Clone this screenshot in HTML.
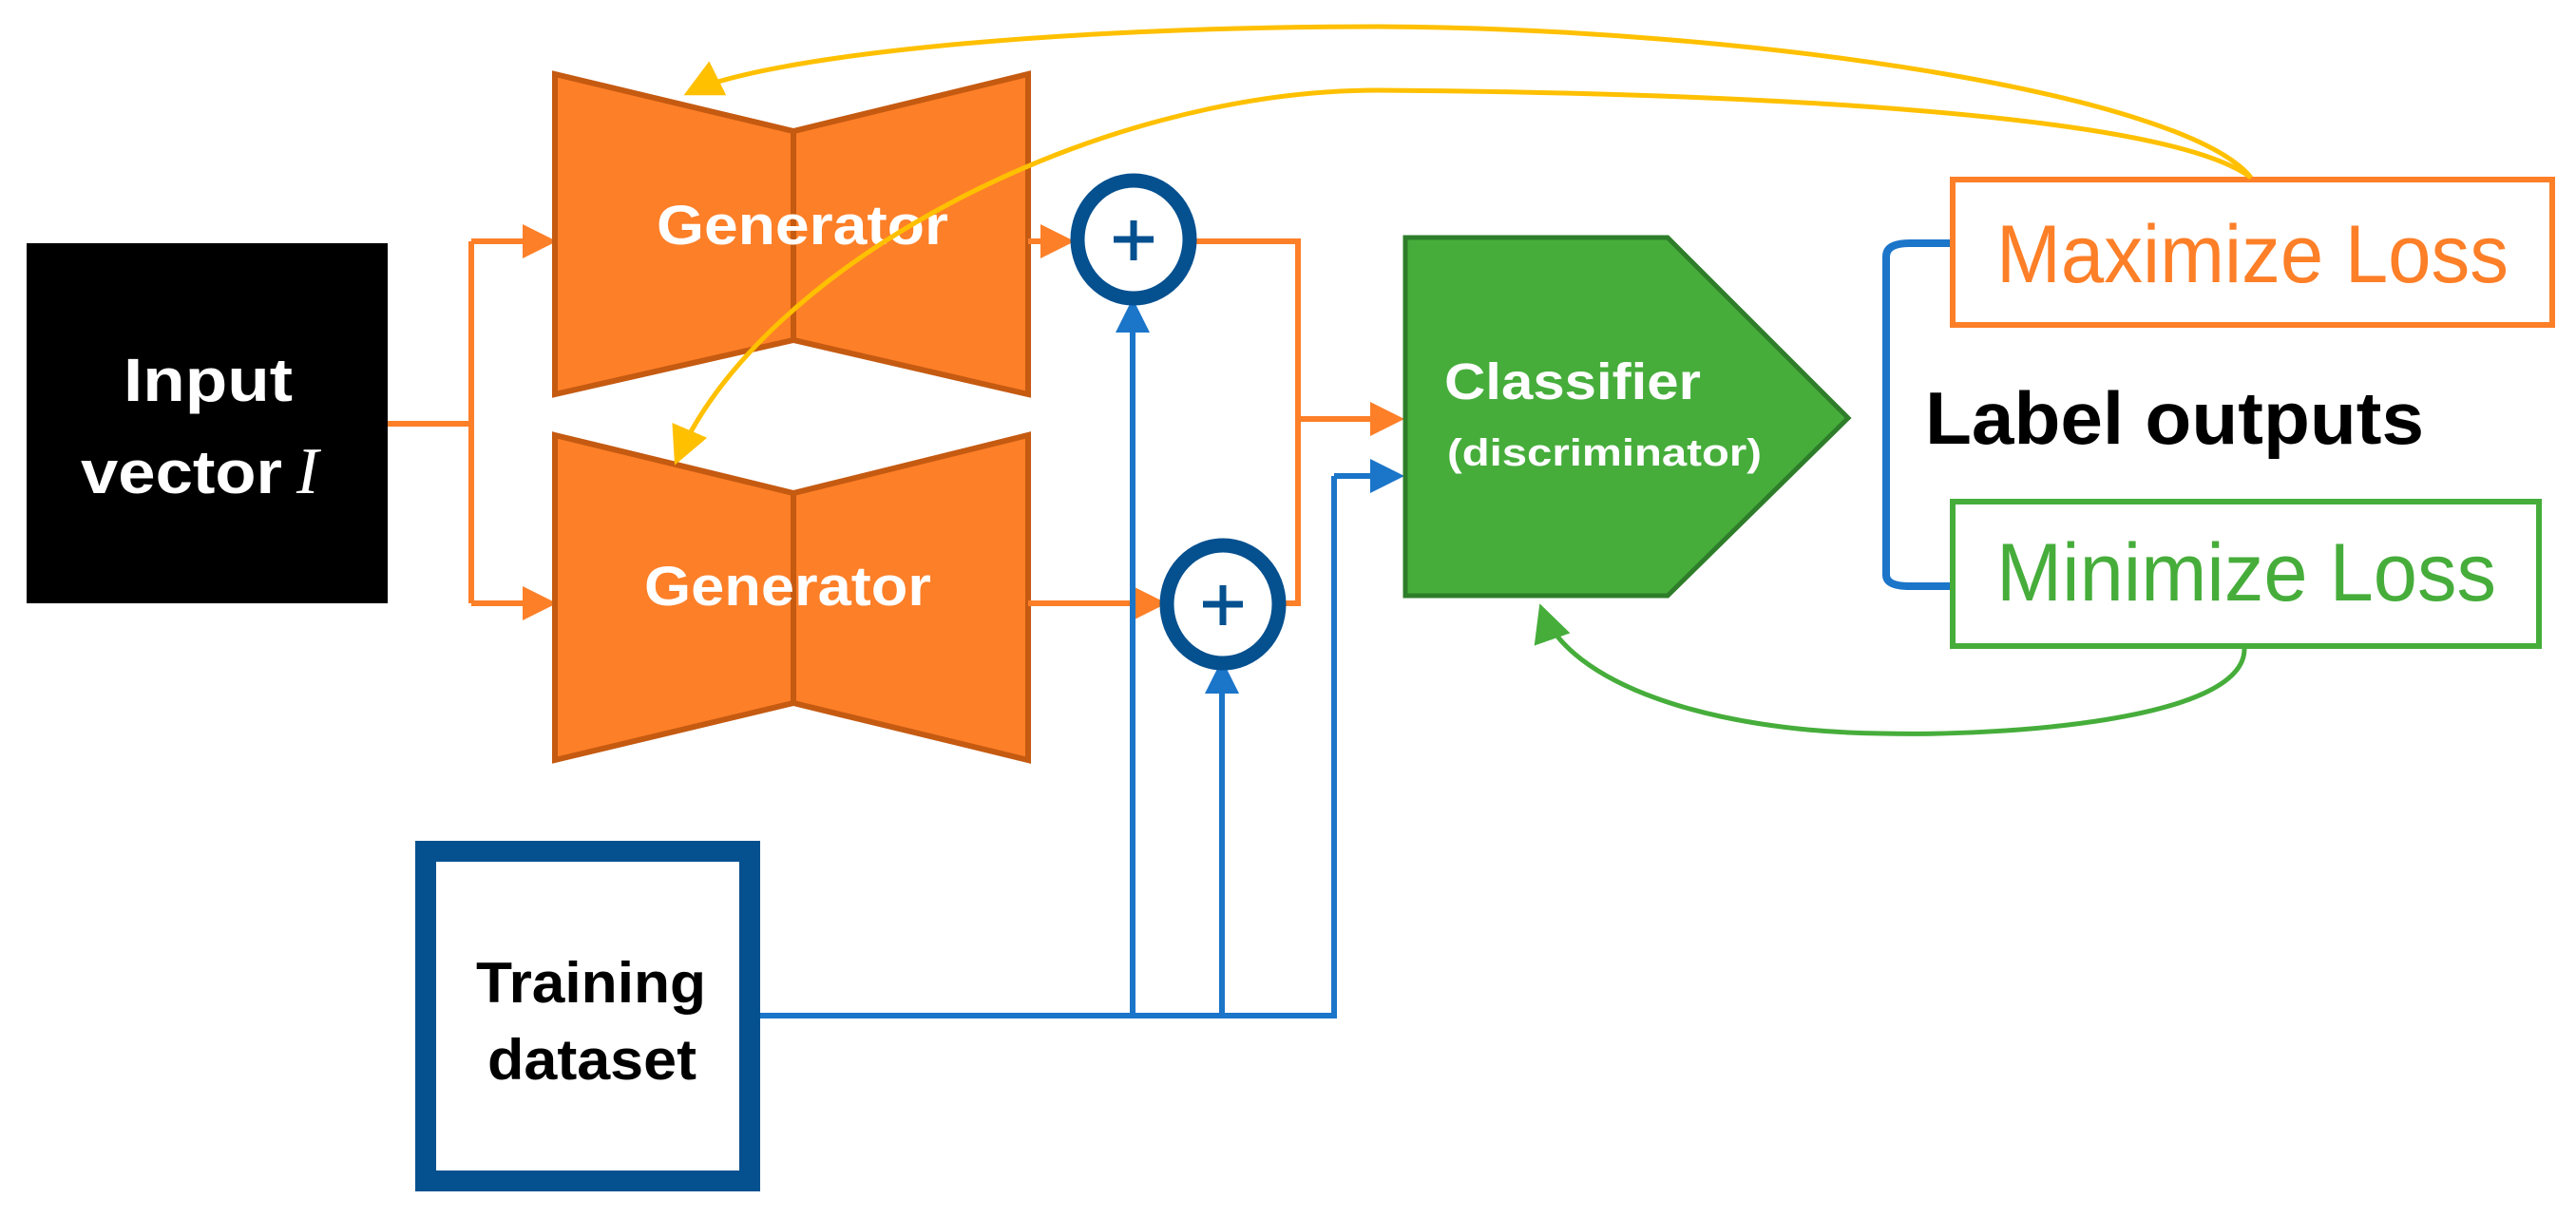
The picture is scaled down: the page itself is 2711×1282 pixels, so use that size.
<!DOCTYPE html>
<html><head><meta charset="utf-8"><style>html,body{margin:0;padding:0;background:#fff}svg{display:block}</style></head>
<body>
<svg width="2711" height="1282" viewBox="0 0 2711 1282" xmlns="http://www.w3.org/2000/svg" font-family="'Liberation Sans', sans-serif">
<defs>
<marker id="ao" markerWidth="6" markerHeight="6" refX="5" refY="3" orient="auto" markerUnits="strokeWidth"><path d="M0,0 L6,3 L0,6 Z" fill="#fd7f28"/></marker>
<marker id="ab" markerWidth="6" markerHeight="6" refX="5" refY="3" orient="auto" markerUnits="strokeWidth"><path d="M0,0 L6,3 L0,6 Z" fill="#1b75c9"/></marker>
<marker id="ay" markerWidth="8" markerHeight="8" refX="7" refY="4" orient="auto" markerUnits="strokeWidth"><path d="M0,0 L8,4 L0,8 Z" fill="#ffc000"/></marker>
<marker id="ag" markerWidth="8" markerHeight="8" refX="7" refY="4" orient="auto" markerUnits="strokeWidth"><path d="M0,0 L8,4 L0,8 Z" fill="#46ad3b"/></marker>
</defs>

<rect x="28" y="256" width="380" height="379" fill="#000"/>
<text x="130" y="422" fill="#fff" font-size="64" font-weight="bold" textLength="178" lengthAdjust="spacingAndGlyphs">Input</text>
<text x="85" y="519" fill="#fff" font-size="64" font-weight="bold" textLength="212" lengthAdjust="spacingAndGlyphs">vector</text>
<text x="312" y="519" fill="#fff" font-size="70" font-style="italic" font-family="'Liberation Serif', serif">I</text>

<path d="M408,446 H496 M496,254 V635" stroke="#fd7f28" stroke-width="6" fill="none"/>
<path d="M496,254 H580" stroke="#fd7f28" stroke-width="6" fill="none" marker-end="url(#ao)"/>
<path d="M496,635 H580" stroke="#fd7f28" stroke-width="6" fill="none" marker-end="url(#ao)"/>

<g fill="#fd7f28" stroke="#c55a11" stroke-width="6" stroke-linejoin="miter">
<polygon points="584,78 835,138 1082,78 1082,415 835,358 584,415"/>
<line x1="835" y1="138" x2="835" y2="358"/>
<polygon points="584,458 835,519 1082,458 1082,800 835,740 584,800"/>
<line x1="835" y1="519" x2="835" y2="740"/>
</g>
<text x="691" y="257" fill="#fff" font-size="58" font-weight="bold" textLength="307" lengthAdjust="spacingAndGlyphs">Generator</text>
<text x="678" y="637" fill="#fff" font-size="58" font-weight="bold" textLength="302" lengthAdjust="spacingAndGlyphs">Generator</text>

<path d="M1082,254 H1125" stroke="#fd7f28" stroke-width="6" fill="none" marker-end="url(#ao)"/>
<path d="M1082,635 H1222" stroke="#fd7f28" stroke-width="6" fill="none" marker-end="url(#ao)"/>
<path d="M1255,254 H1366 V441 M1349,635 H1366 V441" stroke="#fd7f28" stroke-width="6" fill="none"/>
<path d="M1366,441 H1472" stroke="#fd7f28" stroke-width="6" fill="none" marker-end="url(#ao)"/>

<path d="M788,1069 H1404 V501" stroke="#1b75c9" stroke-width="6" fill="none"/>
<path d="M1404,501 H1472" stroke="#1b75c9" stroke-width="6" fill="none" marker-end="url(#ab)"/>
<path d="M1192,1069 V320" stroke="#1b75c9" stroke-width="6" fill="none" marker-end="url(#ab)"/>
<path d="M1286,1069 V700" stroke="#1b75c9" stroke-width="6" fill="none" marker-end="url(#ab)"/>

<ellipse cx="1193" cy="252" rx="59" ry="62" fill="#fff" stroke="#05508f" stroke-width="15"/>
<path d="M1172,252 H1214 M1193,232 V274" stroke="#05508f" stroke-width="7"/>
<ellipse cx="1287" cy="636" rx="59" ry="62" fill="#fff" stroke="#05508f" stroke-width="15"/>
<path d="M1266,636 H1308 M1287,616 V658" stroke="#05508f" stroke-width="7"/>

<rect x="448" y="896" width="341" height="347" fill="#fff" stroke="#05508f" stroke-width="22"/>
<text x="501" y="1055" fill="#000" font-size="60" font-weight="bold" textLength="242" lengthAdjust="spacingAndGlyphs">Training</text>
<text x="513" y="1136" fill="#000" font-size="60" font-weight="bold" textLength="220" lengthAdjust="spacingAndGlyphs">dataset</text>

<polygon points="1479,250 1755,250 1945,440 1755,627 1479,627" fill="#46ad3b" stroke="#2e7d2a" stroke-width="5"/>
<text x="1520" y="420" fill="#fff" font-size="54" font-weight="bold" textLength="270" lengthAdjust="spacingAndGlyphs">Classifier</text>
<text x="1523" y="490" fill="#fff" font-size="40" font-weight="bold" textLength="331" lengthAdjust="spacingAndGlyphs">(discriminator)</text>

<path d="M2055,256 H2010 Q1985,256 1985,270 V605 Q1985,617 2010,617 H2055" stroke="#1b75c9" stroke-width="8" fill="none"/>

<rect x="2055" y="189" width="631" height="153" fill="#fff" stroke="#fd7f28" stroke-width="6"/>
<text x="2101" y="297" fill="#fd7f28" font-size="86" textLength="539" lengthAdjust="spacingAndGlyphs">Maximize Loss</text>
<rect x="2055" y="528" width="617" height="152" fill="#fff" stroke="#46ad3b" stroke-width="6"/>
<text x="2101" y="632" fill="#46ad3b" font-size="86" textLength="526" lengthAdjust="spacingAndGlyphs">Minimize Loss</text>
<text x="2026" y="467" fill="#000" font-size="78" font-weight="bold" textLength="525" lengthAdjust="spacingAndGlyphs">Label outputs</text>

<path d="M2362,683 C2362,760 2100,775 1980,772 C1800,770 1650,720 1622,640" stroke="#46ad3b" stroke-width="5" fill="none" marker-end="url(#ag)"/>
<path d="M2369,187 C2300,100 1850,30 1450,28 C1100,28 800,60 724,98" stroke="#ffc000" stroke-width="5" fill="none" marker-end="url(#ay)"/>
<path d="M2369,187 C2280,120 1850,98 1450,95 C1150,95 800,280 712,485" stroke="#ffc000" stroke-width="5" fill="none" marker-end="url(#ay)"/>
</svg>
</body></html>
